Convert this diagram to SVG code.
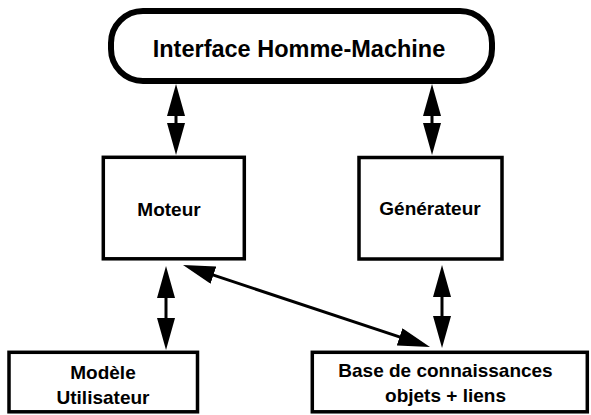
<svg xmlns="http://www.w3.org/2000/svg" width="591" height="415" viewBox="0 0 591 415">
<style>
  .box { fill: #ffffff; stroke: #000000; stroke-width: 3.5; }
  .ihm { fill: #ffffff; stroke: #000000; stroke-width: 6; }
  .lbl { font-family: "Liberation Sans", Arial, sans-serif; font-weight: bold; font-size: 19px; fill: #000000; text-anchor: middle; }
  .big { font-size: 23.5px; }
  .conn { stroke: #000000; stroke-width: 3; fill: none; marker-start: url(#head); marker-end: url(#head); }
</style>
<defs>
  <marker id="head" viewBox="0 0 32 18" refX="22" refY="9" markerWidth="32" markerHeight="18" markerUnits="userSpaceOnUse" orient="auto-start-reverse">
    <path d="M0,0 L32,9 L0,18 Z" fill="#000000"/>
  </marker>
</defs>
<rect width="591" height="415" fill="#ffffff"/>
<g id="connectors">
  <line class="conn" x1="176" y1="94" x2="176" y2="145"/>
  <line class="conn" x1="432" y1="94" x2="432" y2="145"/>
  <line class="conn" x1="166" y1="276" x2="166" y2="340"/>
  <line class="conn" x1="442" y1="275" x2="442" y2="338"/>
  <line class="conn" x1="192.5" y1="268.2" x2="420.5" y2="343.8"/>
</g>
<g id="ihm">
  <rect class="ihm" x="111" y="11" width="381" height="70" rx="32" ry="32"/>
  <text class="lbl big" x="299" y="56.5">Interface Homme-Machine</text>
</g>
<g id="moteur">
  <rect class="box" x="103.3" y="157.3" width="141" height="101.5"/>
  <text class="lbl" x="169" y="216">Moteur</text>
</g>
<g id="generateur">
  <rect class="box" x="359" y="157.5" width="143" height="101.5"/>
  <text class="lbl" x="430" y="215">Générateur</text>
</g>
<g id="modele">
  <rect class="box" x="9" y="352.3" width="188.5" height="59.5"/>
  <text class="lbl" x="103" y="379">Modèle</text>
  <text class="lbl" x="103" y="404">Utilisateur</text>
</g>
<g id="base">
  <rect class="box" x="312.3" y="352.3" width="275" height="59.5"/>
  <text class="lbl" x="445.5" y="377">Base de connaissances</text>
  <text class="lbl" x="445.5" y="402">objets + liens</text>
</g>
</svg>
